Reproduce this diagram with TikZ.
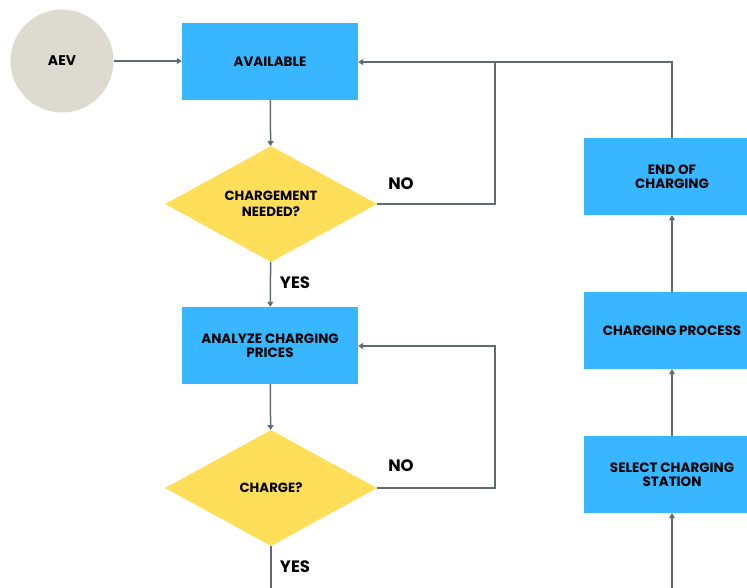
\documentclass[tikz,border=0pt]{standalone}
\usepackage{fontspec}
\setmainfont{Poppins}
\usetikzlibrary{shapes.geometric,arrows.meta}
\definecolor{boxblue}{HTML}{38B6FF}
\definecolor{decyel}{HTML}{FFDE59}
\definecolor{aevgray}{HTML}{DDDAD0}
\definecolor{linegray}{HTML}{5F6B73}
\begin{document}
\begin{tikzpicture}[x=1pt,y=-1pt,
  procbox/.style={rectangle, fill=boxblue, minimum width=176pt, minimum height=77pt, inner sep=0pt, align=center, text=black, font=\bfseries\fontsize{13.5}{13.5}\selectfont},
  decision/.style={diamond, fill=decyel, minimum width=212pt, minimum height=116pt, inner sep=0pt, shape aspect=1.83, align=center, text=black, font=\bfseries\fontsize{13.3}{16}\selectfont},
  startnode/.style={circle, fill=aevgray, minimum size=103pt, inner sep=0pt, text=black, font=\bfseries\fontsize{14}{16}\selectfont},
  lbl/.style={text=black, font=\bfseries\fontsize{16.5}{18}\selectfont, inner sep=0pt},
  plainline/.style={draw=linegray, line width=1.5pt},
  conn/.style={plainline, -{Triangle[length=5pt,width=6pt]}}
]
\useasboundingbox (0,0) rectangle (747,587);
\clip (0,0) rectangle (747,587);

\node[startnode] (aev) at (62,61) {AEV};
\node[procbox] (avail) at (270,61.5) {AVAILABLE};
\node[decision] (d1) at (271,204) {CHARGEMENT\\NEEDED?};
\node[procbox] (analyze) at (270,345.5) {ANALYZE CHARGING\\PRICES};
\node[decision] (d2) at (271,488) {CHARGE?};
\node[procbox] (endc) at (672,176.5) {END OF\\CHARGING};
\node[procbox] (proc) at (672,330.5) {CHARGING PROCESS};
\node[procbox] (sel) at (672,474.5) {SELECT CHARGING\\STATION};

\node[lbl] (no1) at (401,184) {NO};
\node[lbl] (no2) at (401,466) {NO};
\node[lbl] (yes1) at (295,283) {YES};
\node[lbl] (yes2) at (295,567) {YES};

\coordinate (j1) at (495,62);
\coordinate (j2) at (495,346);
\coordinate (botl) at (271,600);
\coordinate (botr) at (672,600);

\draw[conn] (aev.east) -- (aev.east -| avail.west);
\draw[conn] (avail) -- (d1);
\draw[conn] (d1) -- (analyze);
\draw[conn] (analyze) -- (d2);
\draw[plainline] (d2) -- (botl);
\draw[conn] (d1.east) -| (j1) -- (avail.east |- j1);
\draw[plainline] (endc.north) |- (j1);
\draw[conn] (d2.east) -| (j2) -- (analyze.east |- j2);
\draw[conn] (botr) -- (sel);
\draw[conn] (sel) -- (proc);
\draw[conn] (proc) -- (endc);
\end{tikzpicture}
\end{document}
